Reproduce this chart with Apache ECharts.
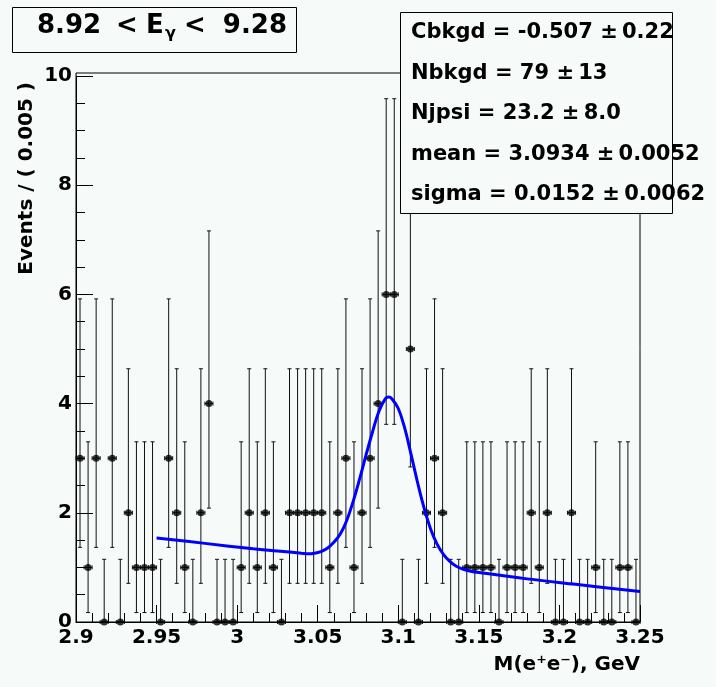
<!DOCTYPE html>
<html>
<head>
<meta charset="utf-8">
<script src="https://cdn.jsdelivr.net/npm/echarts@6/dist/echarts.min.js"></script>
<style>
html,body{margin:0;padding:0;background:#f6faf8;}
#c{width:716px;height:687px;}
</style>
</head>
<body>
<div id="c"></div>
<script>
// ---- data ----
const binWidth = 0.005;
const binCenters = [2.9025, 2.9075, 2.9125, 2.9175, 2.9225, 2.9275, 2.9325, 2.9375, 2.9425, 2.9475,
  2.9525, 2.9575, 2.9625, 2.9675, 2.9725, 2.9775, 2.9825, 2.9875, 2.9925, 2.9975,
  3.0025, 3.0075, 3.0125, 3.0175, 3.0225, 3.0275, 3.0325, 3.0375, 3.0425, 3.0475,
  3.0525, 3.0575, 3.0625, 3.0675, 3.0725, 3.0775, 3.0825, 3.0875, 3.0925, 3.0975,
  3.1025, 3.1075, 3.1125, 3.1175, 3.1225, 3.1275, 3.1325, 3.1375, 3.1425, 3.1475,
  3.1525, 3.1575, 3.1625, 3.1675, 3.1725, 3.1775, 3.1825, 3.1875, 3.1925, 3.1975,
  3.2025, 3.2075, 3.2125, 3.2175, 3.2225, 3.2275, 3.2325, 3.2375, 3.2425, 3.2475];
const counts = [3,1,3,0,3,0,2,1,1,1, 0,3,2,1,0,2,4,0,0,0, 1,2,1,2,1,0,2,2,2,2,
  2,1,2,3,1,2,3,4,6,6, 0,5,0,2,3,2,0,0,1,1, 1,1,0,1,1,1,2,1,2,0, 0,2,0,0,1,0,0,1,1,0];
// Poisson 68% interval bounds for n = 0..6
const poissonLo = [0, 0.173, 0.708, 1.367, 2.086, 2.840, 3.620];
const poissonHi = [1.148, 3.300, 4.638, 5.918, 7.163, 8.382, 9.584];
// fit curve
const fitX = [2.95, 2.98, 3.01, 3.025, 3.040, 3.044, 3.048, 3.052, 3.056, 3.060, 3.064, 3.068, 3.072,
  3.076, 3.080, 3.084, 3.088, 3.092, 3.094, 3.096, 3.100, 3.104, 3.108, 3.112, 3.116, 3.120,
  3.124, 3.128, 3.132, 3.136, 3.140, 3.145, 3.150, 3.18, 3.21, 3.25];
const fitY = [1.54, 1.44, 1.34, 1.30, 1.26, 1.25, 1.26, 1.29, 1.35, 1.46, 1.61, 1.86, 2.21,
  2.62, 3.06, 3.48, 3.86, 4.09, 4.12, 4.09, 3.91, 3.55, 3.06, 2.55, 2.09, 1.71,
  1.43, 1.24, 1.11, 1.02, 0.97, 0.93, 0.905, 0.79, 0.69, 0.56];
const xTicks = {min: 2.9, max: 3.25, step: 0.05};
const yTicks = {min: 0, max: 10, step: 2};
const titleParts = ['8.92', '<', 'E', 'γ', '<', '9.28'];
const statsLines = [
  'Cbkgd = -0.507 ±\u20090.22',
  'Nbkgd = 79 ±\u200913',
  'Njpsi = 23.2 ±\u20098.0',
  'mean = 3.0934 ±\u20090.0052',
  'sigma = 0.0152 ±\u20090.0062'
];
const xTitle = 'M(e⁺e⁻), GeV';
const yTitle = 'Events / ( 0.005 )';

// ---- chart ----
const BG = '#f6faf8';
const FONT = '"DejaVu Sans"';
const chart = echarts.init(document.getElementById('c'), null, {renderer: 'canvas'});

const pts = binCenters.map((x, i) => [x, counts[i]]);
const errs = binCenters.map((x, i) => [x, counts[i], poissonLo[counts[i]], poissonHi[counts[i]]]);
const fit = fitX.map((x, i) => [x, fitY[i]]);

function renderErr(params, api) {
  const x = api.value(0), y = api.value(1), lo = api.value(2), hi = api.value(3);
  const pHi = api.coord([x, hi]);
  const pLo = api.coord([x, lo]);
  const pL = api.coord([x - binWidth / 2, y]);
  const pR = api.coord([x + binWidth / 2, y]);
  const cap = 2;
  const st = {stroke: '#111', lineWidth: 1};
  const line = (x1, y1, x2, y2) => ({type: 'line', shape: {x1, y1, x2, y2}, style: st});
  return {
    type: 'group',
    children: [
      line(pHi[0], pHi[1], pLo[0], pLo[1]),
      line(pHi[0] - cap, pHi[1], pHi[0] + cap, pHi[1]),
      line(pLo[0] - cap, pLo[1], pLo[0] + cap, pLo[1]),
      line(pL[0], pL[1], pR[0], pR[1]),
      line(pL[0], pL[1] - cap, pL[0], pL[1] + cap),
      line(pR[0], pR[1] - cap, pR[0], pR[1] + cap)
    ]
  };
}

const option = {
  backgroundColor: BG,
  animation: false,
  grid: {left: 76, right: 76, top: 76, bottom: 65, show: false},
  xAxis: {
    type: 'value', min: xTicks.min, max: xTicks.max, interval: xTicks.step,
    axisLine: {show: true, lineStyle: {color: '#000', width: 1}},
    axisTick: {show: true, inside: true, length: 17, lineStyle: {color: '#000'}},
    minorTick: {show: true, splitNumber: 5, length: 9, lineStyle: {color: '#000'}},
    splitLine: {show: false},
    axisLabel: {color: '#000', fontFamily: FONT, fontWeight: 'bold', fontSize: 20, margin: 6,
      showMinLabel: true, showMaxLabel: true,
      formatter: v => String(+v.toFixed(3))}
  },
  yAxis: {
    type: 'value', min: yTicks.min, max: yTicks.max, interval: yTicks.step,
    axisLine: {show: true, lineStyle: {color: '#000', width: 1}},
    axisTick: {show: true, inside: true, length: 17, lineStyle: {color: '#000'}},
    minorTick: {show: true, splitNumber: 4, length: 9, lineStyle: {color: '#000'}},
    splitLine: {show: false},
    axisLabel: {color: '#000', fontFamily: FONT, fontWeight: 'bold', fontSize: 20, margin: 4}
  },
  series: [
    {type: 'custom', data: errs, renderItem: renderErr, z: 3, silent: true},
    {type: 'scatter', data: pts, symbol: 'circle', symbolSize: 7, itemStyle: {color: '#000'}, z: 4, silent: true},
    {type: 'line', data: fit, smooth: 0.4, showSymbol: false,
      lineStyle: {color: '#0000ff', width: 3}, z: 5, silent: true}
  ],
  graphic: [
    {type: 'rect', z: 50, silent: true, shape: {x: 76, y: 73, width: 564, height: 549},
      style: {fill: 'none', stroke: '#000', lineWidth: 1}},
    // title box
    {type: 'rect', z: 100, silent: true, shape: {x: 12.5, y: 7.5, width: 284, height: 45},
      style: {fill: BG, stroke: '#000', lineWidth: 1}},
    {type: 'text', z: 101, x: 37, y: 26, style: {text: titleParts[0], font: 'bold 26px ' + FONT, fill: '#000', align: 'left', verticalAlign: 'middle'}},
    {type: 'text', z: 101, x: 116, y: 26, style: {text: titleParts[1], font: 'bold 26px ' + FONT, fill: '#000', align: 'left', verticalAlign: 'middle'}},
    {type: 'text', z: 101, x: 146, y: 26, style: {text: titleParts[2], font: 'bold 26px ' + FONT, fill: '#000', align: 'left', verticalAlign: 'middle'}},
    {type: 'text', z: 101, x: 165, y: 34, style: {text: titleParts[3], font: 'bold 16px ' + FONT, fill: '#000', align: 'left', verticalAlign: 'middle'}},
    {type: 'text', z: 101, x: 184, y: 26, style: {text: titleParts[4], font: 'bold 26px ' + FONT, fill: '#000', align: 'left', verticalAlign: 'middle'}},
    {type: 'text', z: 101, x: 287, y: 26, style: {text: titleParts[5], font: 'bold 26px ' + FONT, fill: '#000', align: 'right', verticalAlign: 'middle'}},
    // stats box
    {type: 'rect', z: 100, silent: true, shape: {x: 400.5, y: 12.5, width: 272, height: 201},
      style: {fill: BG, stroke: '#000', lineWidth: 1}},
    ...statsLines.map((t, i) => ({type: 'text', z: 101, x: 411, y: 33 + i * 40.5,
      style: {text: t, font: 'bold 21px ' + FONT, fill: '#000', align: 'left', verticalAlign: 'middle'}})),
    // axis titles
    {type: 'text', z: 101, x: 640, y: 665, style: {text: xTitle, font: 'bold 20px ' + FONT, fill: '#000', align: 'right', verticalAlign: 'middle'}},
    {type: 'text', z: 101, x: 27, y: 82, rotation: Math.PI / 2,
      style: {text: yTitle, font: 'bold 20px ' + FONT, fill: '#000', align: 'right', verticalAlign: 'middle'}}
  ]
};
chart.setOption(option);
</script>
</body>
</html>
